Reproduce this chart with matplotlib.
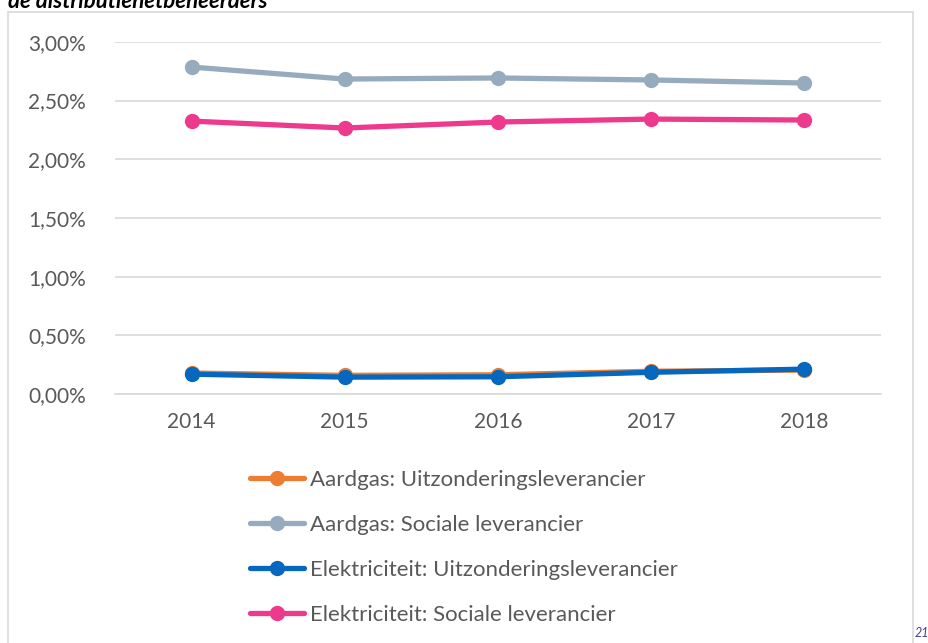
import numpy as np
import matplotlib.pyplot as plt
from matplotlib.patches import Rectangle
from matplotlib.ticker import FuncFormatter

plt.rcParams['font.family'] = ['Lato', 'DejaVu Sans']

years = ['2014', '2015', '2016', '2017', '2018']
gas_uitz = [0.180, 0.160, 0.165, 0.195, 0.205]
gas_sociaal = [2.785, 2.683, 2.692, 2.675, 2.649]
elek_uitz = [0.170, 0.145, 0.148, 0.186, 0.213]
elek_sociaal = [2.325, 2.266, 2.317, 2.342, 2.334]

labels = ['Aardgas: Uitzonderingsleverancier', 'Aardgas: Sociale leverancier',
          'Elektriciteit: Uitzonderingsleverancier', 'Elektriciteit: Sociale leverancier']
colors = ['#ED7D31', '#97ABBE', '#0568BE', '#EE3A8C']
series = [gas_uitz, gas_sociaal, elek_uitz, elek_sociaal]

fig = plt.figure(figsize=(9.29, 6.43), dpi=100)
ax = fig.add_axes([0.1238, 0.387, 0.824, 0.548])

# chart frame
fig.patches.append(Rectangle((8/929, -0.01), 905/929, 1 - 12/643 + 0.01,
                             transform=fig.transFigure, fill=False,
                             edgecolor='#D9D9D9', linewidth=1.2))

x = np.arange(len(years))
handles = []
for s, c, l in zip(series, colors, labels):
    h, = ax.plot(x, s, color=c, linewidth=3.8, marker='o', markersize=10,
                 solid_capstyle='round', label=l)
    handles.append(h)

ax.set_xlim(-0.5, 4.5)
ax.set_ylim(0, 3.0)
ax.set_yticks(np.arange(0, 3.01, 0.5))
ax.yaxis.set_major_formatter(FuncFormatter(lambda v, p: ('%.2f%%' % v).replace('.', ',')))
ax.set_xticks(x)
ax.set_xticklabels(years)
ax.grid(axis='y', color='#D9D9D9', linewidth=1.2)
ax.set_axisbelow(True)
for sp in ['top', 'right', 'left']:
    ax.spines[sp].set_visible(False)
ax.spines['bottom'].set_color('#D9D9D9')
ax.spines['bottom'].set_linewidth(1.2)
ax.tick_params(axis='both', length=0, labelsize=15, colors='#595959')
ax.tick_params(axis='y', pad=21)
ax.tick_params(axis='x', pad=13)

fig.legend(handles=handles, loc='upper left', bbox_to_anchor=(250/929, 1 - 470/643),
           frameon=False, fontsize=16, handlelength=2.45, handletextpad=0.25,
           labelspacing=1.12, borderaxespad=0, borderpad=0, labelcolor='#595959')

fig.text(8/929, 1 - 1/643, 'de distributienetbeheerders', fontsize=16,
         fontweight='bold', fontstyle='italic', va='center', ha='left')
fig.text(915/929, 1 - 633/643, '21', fontsize=9, fontstyle='italic',
         color='#403F9A', va='center', ha='left')

fig.savefig('out.png', dpi=100)
